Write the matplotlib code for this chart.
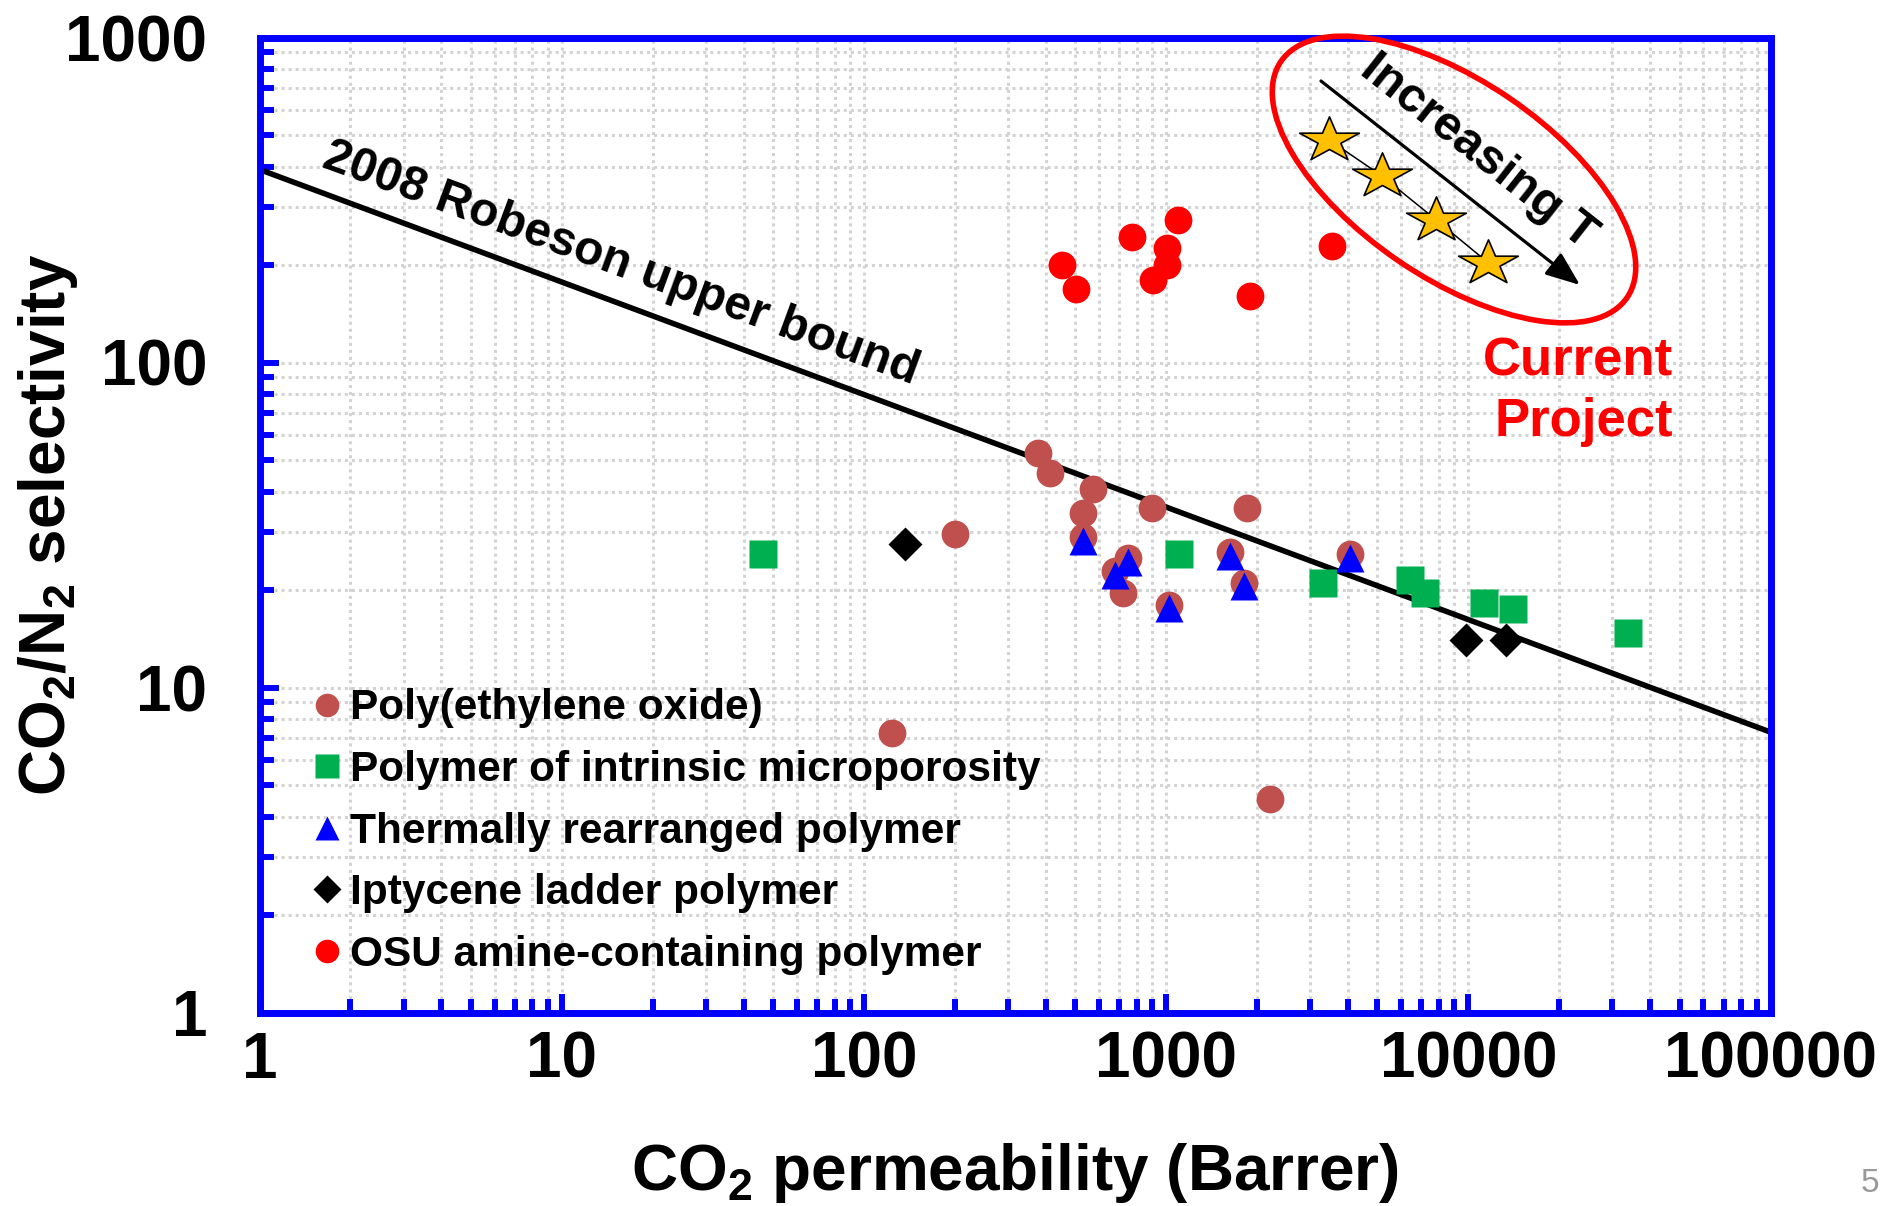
import matplotlib
matplotlib.use('Agg')
import matplotlib.pyplot as plt
import numpy as np
from matplotlib.patches import Ellipse, FancyArrowPatch, ArrowStyle
from matplotlib.path import Path
from matplotlib.markers import MarkerStyle
from matplotlib.ticker import FixedLocator, FixedFormatter, LogLocator, NullFormatter

plt.rcParams['font.family'] = ['Liberation Sans', 'DejaVu Sans']
plt.rcParams['font.weight'] = 'bold'
plt.rcParams['mathtext.fontset'] = 'custom'
plt.rcParams['mathtext.rm'] = 'Liberation Sans:bold'
plt.rcParams['mathtext.it'] = 'Liberation Sans:bold:italic'
plt.rcParams['mathtext.bf'] = 'Liberation Sans:bold'
plt.rcParams['mathtext.default'] = 'rm'

# ---------------- data ----------------
peo_x = [378, 412, 572, 530, 529, 901, 1849, 200, 750, 678, 719, 1025, 1629, 1812, 4065, 124, 2200]
peo_y = [52.7, 45.8, 40.7, 34.4, 29.1, 35.7, 35.7, 29.7, 25.0, 22.8, 19.6, 18.0, 26.1, 20.9, 25.8, 7.27, 4.55]

pim_x = [46.4, 1104, 3293, 6427, 7206, 11298, 14020, 33700]
pim_y = [25.8, 25.8, 20.9, 21.4, 19.6, 18.2, 17.5, 14.7]

tr_x = [529, 750, 678, 1025, 1629, 1812, 4065]
tr_y = [28.3, 24.3, 22.2, 17.6, 25.4, 20.5, 25.1]

ipt_x = [137, 9826, 13330]
ipt_y = [27.6, 14.05, 14.05]

osu_x = [451, 502, 773, 1096, 1005, 1005, 904, 1892, 3527]
osu_y = [200, 168, 244, 275, 225, 200, 180, 160, 229]

star_x = [3465, 5178, 7816, 11620]
star_y = [484, 375, 275, 203]

robeson_x = [1, 100000]
robeson_y = [392.6, 7.29]

x_ticks = [1, 10, 100, 1000, 10000, 100000]
x_labels = ['1', '10', '100', '1000', '10000', '100000']
y_ticks = [1, 10, 100, 1000]
y_labels = ['1', '10', '100', '1000']

series_labels = ['Poly(ethylene oxide)', 'Polymer of intrinsic microporosity',
                 'Thermally rearranged polymer', 'Iptycene ladder polymer',
                 'OSU amine-containing polymer']

# ---------------- figure ----------------
W, H = 1885, 1206
fig = plt.figure(figsize=(W / 100, H / 100), dpi=100)
L, R, T, B = 259.5, 1770.5, 37.5, 1012.5
ax = fig.add_axes([L / W, 1 - B / H, (R - L) / W, (B - T) / H])
ax.set_xscale('log')
ax.set_yscale('log')
ax.set_xlim(1, 100000)
ax.set_ylim(1, 1000)

ax.set_axisbelow(True)
ax.grid(which='both', color='#d3d3d3', lw=2.2, ls=(0, (1, 1.3)))

for sp in ax.spines.values():
    sp.set_color('#0000ff')
    sp.set_linewidth(5)

ax.xaxis.set_major_locator(FixedLocator(x_ticks))
ax.xaxis.set_major_formatter(FixedFormatter(x_labels))
ax.yaxis.set_major_locator(FixedLocator(y_ticks))
ax.yaxis.set_major_formatter(FixedFormatter(y_labels))
ax.xaxis.set_minor_locator(LogLocator(base=10, subs=np.arange(2, 10), numticks=20))
ax.yaxis.set_minor_locator(LogLocator(base=10, subs=np.arange(2, 10), numticks=20))
ax.xaxis.set_minor_formatter(NullFormatter())
ax.yaxis.set_minor_formatter(NullFormatter())

ax.tick_params(which='both', direction='in', color='#0000ff', width=4.3,
               top=False, right=False, labelsize=46)
ax.tick_params(which='major', length=14)
ax.tick_params(which='minor', length=10)
ax.tick_params(axis='y', which='major', pad=37.5)
ax.tick_params(axis='x', which='major', pad=13)
for lab in ax.get_xticklabels() + ax.get_yticklabels():
    lab.set_fontweight('bold')

# Robeson line
ax.plot(robeson_x, robeson_y, color='black', lw=4, zorder=2, solid_capstyle='butt')

# data series
ms_c = 20
h1, = ax.plot(peo_x, peo_y, 'o', ms=ms_c, color='#c0504d', mec='none', ls='none', zorder=3)
h2, = ax.plot(pim_x, pim_y, 's', ms=ms_c, color='#00b050', mec='none', ls='none', zorder=4)
h3, = ax.plot(tr_x, tr_y, '^', ms=19.5, color='#0000ff', mec='none', ls='none', zorder=5)
h4, = ax.plot(ipt_x, ipt_y, 'D', ms=17, color='black', mec='none', ls='none', zorder=6)
h5, = ax.plot(osu_x, osu_y, 'o', ms=ms_c, color='#ff0000', mec='none', ls='none', zorder=7)

# stars (current project)
ang = np.deg2rad(90 + 36 * np.arange(10))
rad = np.where(np.arange(10) % 2 == 0, 1.0, 0.382)
sv = np.column_stack([1.33 * rad * np.cos(ang), rad * np.sin(ang)])
sv = np.vstack([sv, sv[:1]])
codes = [Path.MOVETO] + [Path.LINETO] * 9 + [Path.CLOSEPOLY]
star_marker = MarkerStyle(Path(sv, codes))
ax.plot(star_x, star_y, color='black', lw=1.1, zorder=8)
ax.plot(star_x, star_y, ls='none', marker=star_marker, ms=43, mfc='#ffc000',
        mec='black', mew=1.2, zorder=9)

# axis labels
ax.set_xlabel('CO$_2$ permeability (Barrer)', fontsize=46, fontweight='bold')
ax.set_ylabel('CO$_2$/N$_2$ selectivity', fontsize=46, fontweight='bold')
ax.xaxis.set_label_coords(0.5, (B - 1141) / (B - T))
ax.yaxis.set_label_coords((80 - L) / (R - L), 0.5)

# legend
leg = ax.legend([h1, h2, h3, h4, h5], series_labels, loc='upper left',
                bbox_to_anchor=((316.5 - L) / (R - L), (B - 688.5) / (B - T)),
                frameon=False, prop={'size': 30.5, 'weight': 'bold'},
                handlelength=0.5, handletextpad=0.28, labelspacing=0.51,
                borderpad=0, borderaxespad=0, markerscale=0.85)

# overlay in pixel coordinates for annotations
ov = fig.add_axes([0, 0, 1, 1], zorder=10)
ov.set_xlim(0, W)
ov.set_ylim(H, 0)
ov.axis('off')
ov.patch.set_alpha(0)

ov.text(320, 167, '2008 Robeson upper bound', fontsize=34.5, fontweight='bold',
        rotation=-20.2, rotation_mode='anchor', ha='left', va='baseline')

ov.add_patch(Ellipse((1454, 179.5), 419, 197, angle=34.3, fill=False,
                     ec='#ff0000', lw=4))
ov.add_patch(FancyArrowPatch((1321, 81), (1580, 285),
                             arrowstyle=ArrowStyle('-|>', head_length=1.4, head_width=0.55),
                             mutation_scale=15, color='black', lw=2.3, shrinkA=0, shrinkB=0))
ov.text(1471, 162, 'Increasing T', fontsize=35, fontweight='bold', rotation=-38.2,
        rotation_mode='anchor', ha='center', va='baseline')
ov.text(1673, 392, 'Current\nProject', fontsize=38, fontweight='bold', color='#ff0000',
        ha='right', va='center', multialignment='right', linespacing=1.27)

fig.text(1870 / W, 1 - 1184 / H, '5', fontsize=24, color='#999999',
         fontweight='normal', ha='center', va='center')

fig.savefig('out.png', dpi=100)
